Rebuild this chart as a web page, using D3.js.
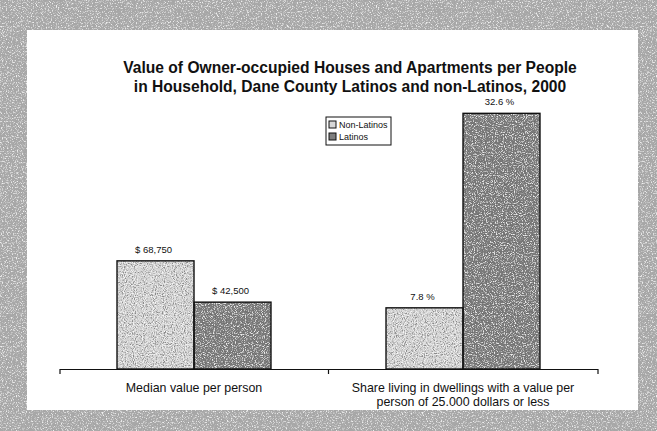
<!DOCTYPE html>
<html>
<head>
<meta charset="utf-8">
<script src="https://cdn.jsdelivr.net/npm/d3@7"></script>
<style>
  html, body { margin: 0; padding: 0; background: #fff; }
  svg { display: block; }
  text { font-family: Arial, "Liberation Sans", Helvetica, sans-serif; fill: #111; }
</style>
</head>
<body>
<svg id="chart" width="657" height="431"></svg>
<script>
// Chart data
const categories = ["median", "share"];
const categoryLines = [
  ["Median value per person"],
  ["Share living in dwellings with a value per", "person of 25.000 dollars or less"]
];
const seriesNames = ["Non-Latinos", "Latinos"];
const nonLatinos = [68750, 7.8];
const latinos = [42500, 32.6];
const moneyDomain = [0, 171000];
const percentDomain = [0, 34.3];
const titleLines = [
  "Value of Owner-occupied Houses and Apartments per People",
  "in Household, Dane County Latinos and non-Latinos, 2000"
];

const W = 657, H = 431;
const svg = d3.select("#chart");
const defs = svg.append("defs");

// Grain filters: speckle noise laid over a flat fill
function grainFilter(id, seed, freq, darkAmt, lightAmt, darkTone, lightTone) {
  const f = defs.append("filter").attr("id", id)
    .attr("x", 0).attr("y", 0).attr("width", 1).attr("height", 1)
    .attr("filterUnits", "objectBoundingBox");
  f.append("feTurbulence").attr("type", "fractalNoise")
    .attr("baseFrequency", freq).attr("numOctaves", 2).attr("seed", seed).attr("result", "noise");
  const dt = darkTone, lt = lightTone;
  f.append("feColorMatrix").attr("in", "noise").attr("type", "matrix")
    .attr("values", `0 0 0 0 ${dt}  0 0 0 0 ${dt}  0 0 0 0 ${dt}  -${darkAmt} 0 0 0 ${darkAmt * 0.5}`)
    .attr("result", "dark");
  f.append("feColorMatrix").attr("in", "noise").attr("type", "matrix")
    .attr("values", `0 0 0 0 ${lt}  0 0 0 0 ${lt}  0 0 0 0 ${lt}  ${lightAmt} 0 0 0 -${lightAmt * 0.52}`)
    .attr("result", "light");
  f.append("feComposite").attr("in", "dark").attr("in2", "SourceGraphic").attr("operator", "in").attr("result", "darkIn");
  f.append("feComposite").attr("in", "light").attr("in2", "SourceGraphic").attr("operator", "in").attr("result", "lightIn");
  const m = f.append("feMerge");
  m.append("feMergeNode").attr("in", "SourceGraphic");
  m.append("feMergeNode").attr("in", "darkIn");
  m.append("feMergeNode").attr("in", "lightIn");
}
grainFilter("grainFrame", 7, 0.8, 4, 4, 0.42, 0.86);
grainFilter("grainLight", 3, 0.9, 4, 3, 0.25, 1);
grainFilter("grainDark", 11, 0.9, 4, 4, 0.15, 0.85);

// Textured frame around the white panel
svg.append("rect").attr("x", 0).attr("y", 0).attr("width", W).attr("height", H)
  .attr("fill", "#a6a6a6").attr("filter", "url(#grainFrame)");
svg.append("rect").attr("x", 27).attr("y", 30).attr("width", 611).attr("height", 380)
  .attr("fill", "#ffffff");

// Title
svg.append("g").selectAll("text").data(titleLines).join("text")
  .attr("x", 350).attr("y", (d, i) => 73 + i * 18.5)
  .attr("text-anchor", "middle")
  .style("font-size", "15.6px").style("font-weight", "bold")
  .text(d => d);

// Scales
const baseY = 369, topY = 100;
const x0 = d3.scaleBand().domain(categories).range([59.5, 597.5]).paddingInner(0).paddingOuter(0);
const x1 = d3.scaleBand().domain(seriesNames).range([0, x0.bandwidth()]).paddingInner(0).paddingOuter(0.747);
const yMoney = d3.scaleLinear().domain(moneyDomain).range([baseY, topY]);
const yPct = d3.scaleLinear().domain(percentDomain).range([baseY, topY]);
const yScales = [yMoney, yPct];
const fmtMoney = v => "$ " + d3.format(",")(v);
const fmtPct = v => d3.format(".1f")(v) + " %";
const labelFormats = [fmtMoney, fmtPct];
const fills = { "Non-Latinos": "#d6d6d6", "Latinos": "#7e7e7e" };
const grains = { "Non-Latinos": "url(#grainLight)", "Latinos": "url(#grainDark)" };

const rows = [];
categories.forEach((c, i) => {
  rows.push({ cat: c, i, series: "Non-Latinos", value: nonLatinos[i] });
  rows.push({ cat: c, i, series: "Latinos", value: latinos[i] });
});

// Bars
const barG = svg.append("g");
barG.selectAll("rect.fill").data(rows).join("rect").attr("class", "fill")
  .attr("x", d => x0(d.cat) + x1(d.series))
  .attr("y", d => yScales[d.i](d.value))
  .attr("width", x1.bandwidth())
  .attr("height", d => baseY - yScales[d.i](d.value))
  .attr("fill", d => fills[d.series])
  .attr("filter", d => grains[d.series]);
barG.selectAll("rect.edge").data(rows).join("rect").attr("class", "edge")
  .attr("x", d => x0(d.cat) + x1(d.series))
  .attr("y", d => yScales[d.i](d.value))
  .attr("width", x1.bandwidth())
  .attr("height", d => baseY - yScales[d.i](d.value))
  .attr("fill", "none").attr("stroke", "#111").attr("stroke-width", 1.4);

// Value labels
svg.append("g").selectAll("text").data(rows).join("text")
  .attr("x", d => x0(d.cat) + x1(d.series) + x1.bandwidth() / 2 - 2)
  .attr("y", d => yScales[d.i](d.value) - 8)
  .attr("text-anchor", "middle")
  .style("font-size", "9.5px")
  .text(d => labelFormats[d.i](d.value));

// Category axis
const axis = d3.axisBottom(x0).tickSizeInner(0).tickSizeOuter(5).tickFormat("");
const axG = svg.append("g").attr("transform", `translate(0,${baseY})`).call(axis);
axG.select(".domain").attr("stroke", "#111").attr("stroke-width", 1.2);
axG.selectAll(".tick").remove();
// tick between the two groups
axG.selectAll("line.sep").data(categories.slice(1)).join("line").attr("class", "sep")
  .attr("x1", d => x0(d)).attr("x2", d => x0(d))
  .attr("y1", 0).attr("y2", 5).attr("stroke", "#111").attr("stroke-width", 1.2);

const catLabels = svg.append("g").selectAll("text").data(categories).join("text")
  .attr("x", d => x0(d) + x0.bandwidth() / 2)
  .attr("y", 391.5)
  .attr("text-anchor", "middle")
  .style("font-size", "12.4px");
catLabels.selectAll("tspan").data((d, i) => categoryLines[i]).join("tspan")
  .attr("x", function () { return d3.select(this.parentNode).attr("x"); })
  .attr("dy", (d, j) => j === 0 ? 0 : 14.5)
  .text(d => d);

// Legend
const lg = svg.append("g").attr("transform", "translate(326,117)");
lg.append("rect").attr("width", 65).attr("height", 28)
  .attr("fill", "#fff").attr("stroke", "#111").attr("stroke-width", 1);
const li = lg.selectAll("g").data(seriesNames).join("g")
  .attr("transform", (d, i) => `translate(3,${4 + i * 12})`);
li.append("rect").attr("width", 7).attr("height", 7)
  .attr("fill", d => fills[d]).attr("stroke", "#111").attr("stroke-width", 1);
li.append("text").attr("x", 10).attr("y", 7)
  .style("font-size", "9px").text(d => d);
</script>
</body>
</html>
